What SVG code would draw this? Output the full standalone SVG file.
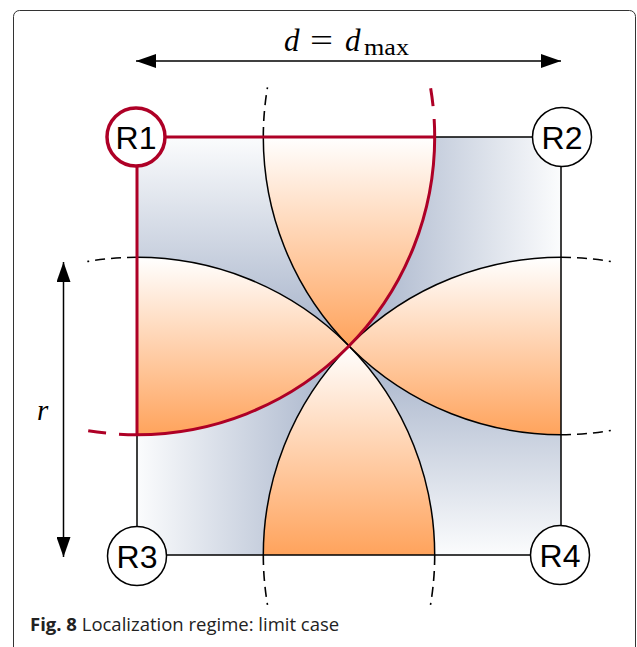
<svg xmlns="http://www.w3.org/2000/svg" width="637" height="647" viewBox="0 0 637 647">
<style>
.edge{fill:none;stroke:#000;stroke-width:1.5}
.arc{fill:none;stroke:#000;stroke-width:1.5}
.dash{fill:none;stroke:#000;stroke-width:1.6;stroke-dasharray:10 6}
.red{fill:none;stroke:#AE0026;stroke-width:3}
.reddash{fill:none;stroke:#AE0026;stroke-width:3;stroke-dasharray:18 13}
.node circle{fill:#fff;stroke:#000;stroke-width:1.5}
.node text{font-family:"Liberation Sans",Arial,sans-serif;font-size:32px;text-anchor:middle;fill:#000}
.math{font-family:"Liberation Serif","Times New Roman",serif;fill:#000}
</style>
<defs>
<linearGradient id="og" x1="0" y1="0" x2="0" y2="1"><stop offset="0" stop-color="#fff"/><stop offset="1" stop-color="#FFA35C"/></linearGradient>
<linearGradient id="bgDown" x1="0" y1="0" x2="0" y2="1"><stop offset="0" stop-color="#fbfcfd"/><stop offset="1" stop-color="#a3b0c8"/></linearGradient>
<linearGradient id="bgUp" x1="0" y1="1" x2="0" y2="0"><stop offset="0" stop-color="#fbfcfd"/><stop offset="1" stop-color="#a3b0c8"/></linearGradient>
<linearGradient id="bgLeft" x1="1" y1="0" x2="0" y2="0"><stop offset="0" stop-color="#fbfcfd"/><stop offset="1" stop-color="#a3b0c8"/></linearGradient>
<linearGradient id="bgRight" x1="0" y1="0" x2="1" y2="0"><stop offset="0" stop-color="#fbfcfd"/><stop offset="1" stop-color="#a3b0c8"/></linearGradient>
<marker id="ah" viewBox="0 0 20 14" refX="20" refY="7" markerWidth="20" markerHeight="14" markerUnits="userSpaceOnUse" orient="auto-start-reverse"><path d="M0,0 L20,7 L0,14 Z" fill="#000"/></marker>
</defs>
<rect x="13.5" y="10.5" width="622" height="680" rx="6" fill="none" stroke="#333" stroke-width="1"/>
<g id="regions">
<path d="M137,137 L263.3,137 A297.7,297.7 0 0 0 349,346 A297.7,297.7 0 0 0 137,257.3 Z" fill="url(#bgDown)"/>
<path d="M434.7,137 L561,137 L561,257.3 A297.7,297.7 0 0 0 349,346 A297.7,297.7 0 0 0 434.7,137 Z" fill="url(#bgLeft)"/>
<path d="M561,555 L434.7,555 A297.7,297.7 0 0 0 349,346 A297.7,297.7 0 0 0 561,434.7 Z" fill="url(#bgUp)"/>
<path d="M137,555 L137,434.7 A297.7,297.7 0 0 0 349,346 A297.7,297.7 0 0 0 263.3,555 Z" fill="url(#bgRight)"/>
<path d="M263.3,137 L434.7,137 A297.7,297.7 0 0 1 349,346 A297.7,297.7 0 0 1 263.3,137 Z" fill="url(#og)"/>
<path d="M561,257.3 L561,434.7 A297.7,297.7 0 0 1 349,346 A297.7,297.7 0 0 1 561,257.3 Z" fill="url(#og)"/>
<path d="M263.3,555 L434.7,555 A297.7,297.7 0 0 0 349,346 A297.7,297.7 0 0 0 263.3,555 Z" fill="url(#og)"/>
<path d="M137,257.3 L137,434.7 A297.7,297.7 0 0 0 349,346 A297.7,297.7 0 0 0 137,257.3 Z" fill="url(#og)"/>
</g>
<g id="connectors">
<path class="edge" d="M137,137 H561 V555 H137 Z"/>
<path class="arc" d="M263.3,137 A297.7,297.7 0 0 0 561,434.7"/>
<path class="arc" d="M137,257.3 A297.7,297.7 0 0 1 434.7,555"/>
<path class="arc" d="M561,257.3 A297.7,297.7 0 0 0 263.3,555"/>
<path class="dash" d="M263.3,137 A297.7,297.7 0 0 1 267.5,87.3"/>
<path class="dash" d="M561,434.7 A297.7,297.7 0 0 0 610.8,430.5"/>
<path class="dash" d="M137,257.3 A297.7,297.7 0 0 0 87.3,261.5"/>
<path class="dash" d="M434.7,555 A297.7,297.7 0 0 1 430.5,604.8"/>
<path class="dash" d="M561,257.3 A297.7,297.7 0 0 1 610.8,261.5"/>
<path class="dash" d="M263.3,555 A297.7,297.7 0 0 0 267.5,604.8"/>
<path class="red" d="M434.7,137 H137 V434.7"/>
<path class="red" d="M434.7,137 A297.7,297.7 0 0 1 137,434.7"/>
<path class="reddash" d="M434.7,137 A297.7,297.7 0 0 0 430.5,87.3"/>
<path class="reddash" d="M137,434.7 A297.7,297.7 0 0 1 87.3,430.5"/>
<line x1="136" y1="61" x2="561" y2="61" stroke="#000" stroke-width="1.5" marker-start="url(#ah)" marker-end="url(#ah)"/>
<line x1="63.5" y1="262" x2="63.5" y2="557" stroke="#000" stroke-width="1.5" marker-start="url(#ah)" marker-end="url(#ah)"/>
</g>
<g id="R1" class="node"><circle cx="136" cy="137" r="29" style="stroke:#AE0026;stroke-width:3.5"/><text x="136" y="148.5">R1</text></g>
<g id="R2" class="node"><circle cx="562" cy="137" r="29.5"/><text x="562" y="148.5">R2</text></g>
<g id="R3" class="node"><circle cx="137" cy="556" r="29.5"/><text x="137" y="567.5">R3</text></g>
<g id="R4" class="node"><circle cx="560" cy="555" r="29.5"/><text x="560" y="566.5">R4</text></g>
<g id="labels">
<text class="math" y="51" font-size="31"><tspan x="284" font-style="italic">d</tspan><tspan x="310" textLength="23" lengthAdjust="spacingAndGlyphs">=</tspan><tspan x="345" font-style="italic">d</tspan><tspan x="364" y="55" font-size="23" textLength="45" lengthAdjust="spacingAndGlyphs">max</tspan></text>
<text class="math" x="37" y="420" font-size="29" font-style="italic">r</text>
<text x="30" y="631" font-family="'Open Sans','Noto Sans',sans-serif" font-size="18.5" fill="#222"><tspan font-weight="bold">Fig. 8</tspan> Localization regime: limit case</text>
</g>
</svg>
